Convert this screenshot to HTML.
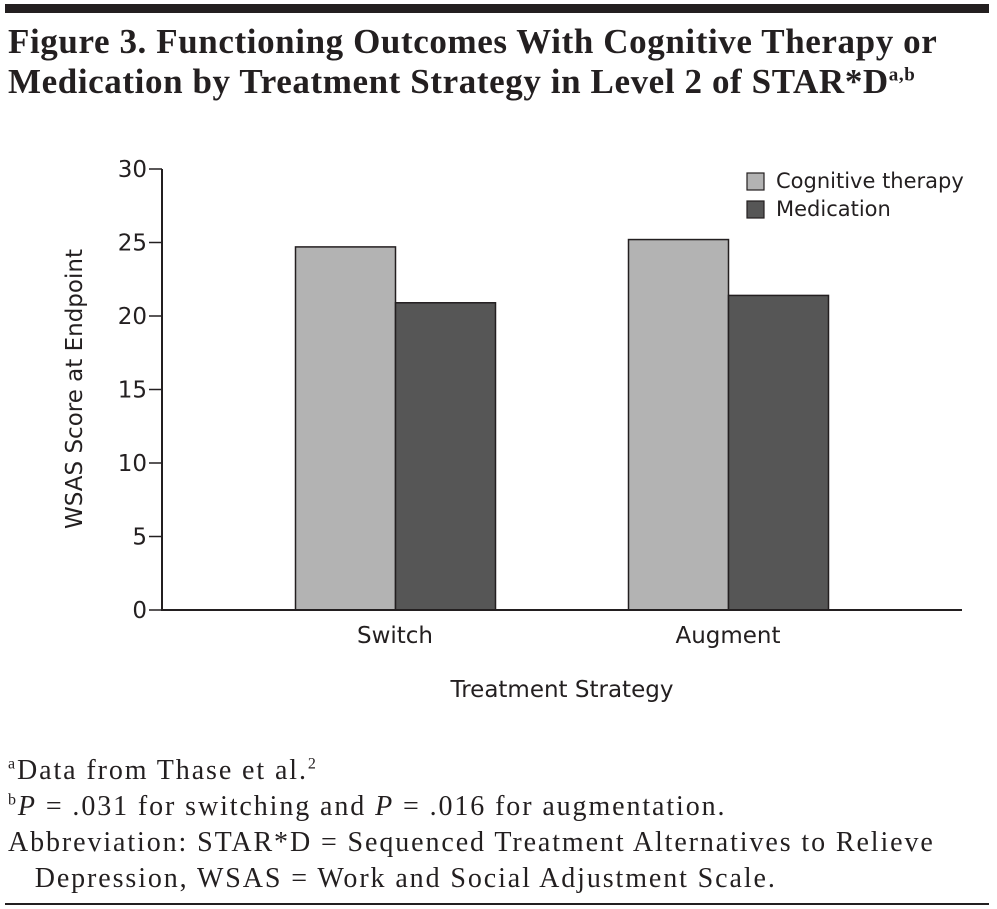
<!DOCTYPE html>
<html><head><meta charset="utf-8"><style>
body{margin:0;width:997px;height:909px;background:#fff;overflow:hidden;position:relative;font-family:"Liberation Serif",serif;color:#231f20}
.t{position:absolute;left:8px;top:22px;font-size:35px;font-weight:bold;line-height:40px;letter-spacing:0.6px;white-space:nowrap}
.fn{position:absolute;left:8px;font-size:28px;line-height:36px;letter-spacing:1.9px;white-space:nowrap}
svg text{font-family:"DejaVu Sans","Liberation Sans",sans-serif;fill:#231f20}
</style></head><body>
<div style="position:absolute;left:5px;top:4px;width:984px;height:9px;background:#231f20"></div>
<div class="t">Figure 3. Functioning Outcomes With Cognitive Therapy or<br>Medication by Treatment Strategy in Level 2 of STAR*D<sup style="font-size:19px;line-height:0">a,b</sup></div>
<svg id="chart" width="997" height="720" style="position:absolute;left:0;top:0"></svg>
<div class="fn" style="top:753px"><sup style="font-size:16px;line-height:0">a</sup>Data from Thase et al.<sup style="font-size:16px;line-height:0">2</sup><br><sup style="font-size:16px;line-height:0">b</sup><i>P</i> = .031 for switching and <i>P</i> = .016 for augmentation.<br>Abbreviation: STAR*D = Sequenced Treatment Alternatives to Relieve<br>&nbsp;&nbsp;&nbsp;Depression, WSAS = Work and Social Adjustment Scale.</div>
<div style="position:absolute;left:5px;top:903px;width:984px;height:2px;background:#231f20"></div>
<script>
const categories=["Switch","Augment"];
const seriesNames=["Cognitive therapy","Medication"];
const cognitive=[24.7,25.2];
const medication=[20.9,21.4];
const yTicks=[0,5,10,15,20,25,30];
const svg=document.getElementById('chart');const NS="http://www.w3.org/2000/svg";
const x0=162,x1=962,y0=610,y30=169;
const yS=v=>y0-(v/30)*(y0-y30);
const catC=i=>395+i*333;
function mk(t,a,txt){const e=document.createElementNS(NS,t);for(const k in a)e.setAttribute(k,a[k]);if(txt!==undefined)e.textContent=txt;svg.appendChild(e);return e;}
const series=[cognitive,medication],cols=["#b3b3b3","#565656"];
series.forEach((s,si)=>s.forEach((v,i)=>{const bx=catC(i)-100+si*100;
const r=mk('rect',{x:bx+0.5,y:yS(v),width:100,height:y0-yS(v),fill:cols[si],stroke:"#231f20","stroke-width":1.5});

}));
const ya=mk('line',{x1:x0,y1:y30,x2:x0,y2:y0+1,stroke:"#231f20","stroke-width":2});

const xa=mk('line',{x1:x0-1,y1:y0,x2:x1,y2:y0,stroke:"#231f20","stroke-width":2});

yTicks.forEach(v=>{mk('line',{x1:x0-13,y1:yS(v),x2:x0,y2:yS(v),stroke:"#231f20","stroke-width":1.5});
const t=mk('text',{x:x0-15,y:yS(v)+8,"text-anchor":"end","font-size":23},v);
});
categories.forEach((c,i)=>{const t=mk('text',{x:catC(i),y:643,"text-anchor":"middle","font-size":23},c);
});
const xt=mk('text',{x:562,y:697,"text-anchor":"middle","font-size":23},"Treatment Strategy");

const yt=mk('text',{x:82,y:389,"text-anchor":"middle","font-size":23,transform:"rotate(-90 82 389)"},"WSAS Score at Endpoint");

seriesNames.forEach((n,i)=>{const yy=173+i*28;
const r=mk('rect',{x:747,y:yy,width:17,height:17,fill:cols[i],stroke:"#231f20","stroke-width":1.2});

const t=mk('text',{x:776,y:yy+15,"font-size":21},n);
});
</script>
</body></html>
